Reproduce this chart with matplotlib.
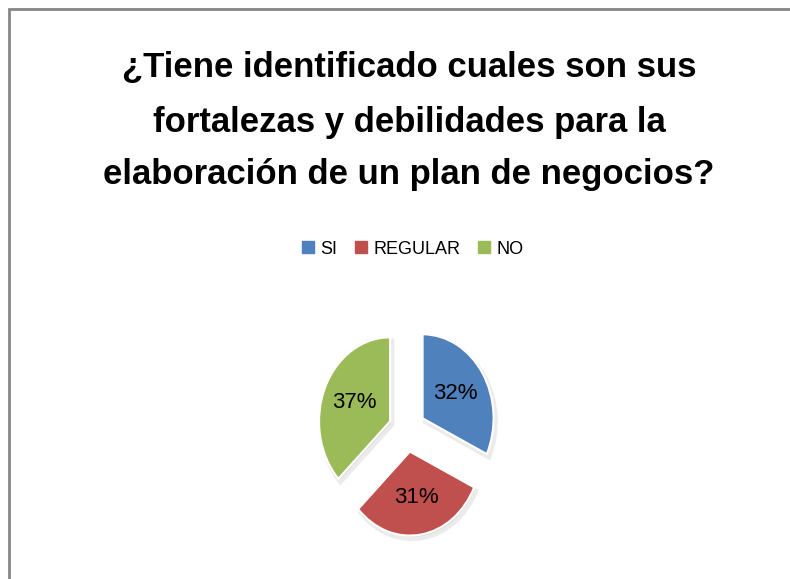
import matplotlib.pyplot as plt
from matplotlib.patches import Rectangle
from matplotlib.lines import Line2D

# data
labels = ['SI', 'REGULAR', 'NO']
values = [32, 31, 37]
colors = ['#4F81BD', '#C0504D', '#9BBB59']
title_lines = ['¿Tiene identificado cuales son sus',
               'fortalezas y debilidades para la',
               'elaboración de un plan de negocios?']

plt.rcParams['font.family'] = ['Liberation Sans', 'DejaVu Sans']

W, H = 790, 579
fig = plt.figure(figsize=(W / 100, H / 100), dpi=100)

# outer chart border (runs off right/bottom edge)
fig.patches.append(Rectangle((9 / W, -0.1), 1.2, (H - 9) / H + 0.1,
                             transform=fig.transFigure, fill=False,
                             edgecolor='#868686', linewidth=2))

# title
for txt, base in zip(title_lines, [77, 132, 184]):
    fig.text(409 / W, 1 - base / H, txt, ha='center', va='baseline',
             fontsize=25, fontweight='bold', color='black')

# pie axes: 1 unit = 71 px horizontally, 84 px vertically
cx, cy = 407, 430
xr, yr = 2.0, 1.6
ax = fig.add_axes([(cx - xr * 71) / W, (H - cy - yr * 84) / H,
                   2 * xr * 71 / W, 2 * yr * 84 / H])
explode = [0.26] * len(values)

# soft shadow
ax.pie(values, explode=explode, startangle=90, counterclock=False,
       colors=['#d8d8d8'] * 3, center=(0.03, -0.04),
       wedgeprops=dict(linewidth=3, edgecolor='#ebebeb'))
wedges, texts, autotexts = ax.pie(values, explode=explode, startangle=90,
                                  counterclock=False, colors=colors,
                                  autopct='%1.0f%%', pctdistance=0.55,
                                  wedgeprops=dict(linewidth=1.5, edgecolor='white'),
                                  textprops=dict(fontsize=16, color='black'))
ax.set_aspect('auto')
ax.set_xlim(-xr, xr)
ax.set_ylim(-yr, yr)
ax.axis('off')

handles = [Line2D([], [], marker='s', linestyle='none', markersize=8,
                  markerfacecolor=c, markeredgecolor=c) for c in colors]
fig.legend(handles, labels, loc='center', bbox_to_anchor=(413 / W, 1 - 249 / H),
           ncol=3, frameon=False, fontsize=13, handlelength=0.6,
           handletextpad=0.4, columnspacing=1.0)

fig.savefig('out.png', dpi=100, facecolor='white')
